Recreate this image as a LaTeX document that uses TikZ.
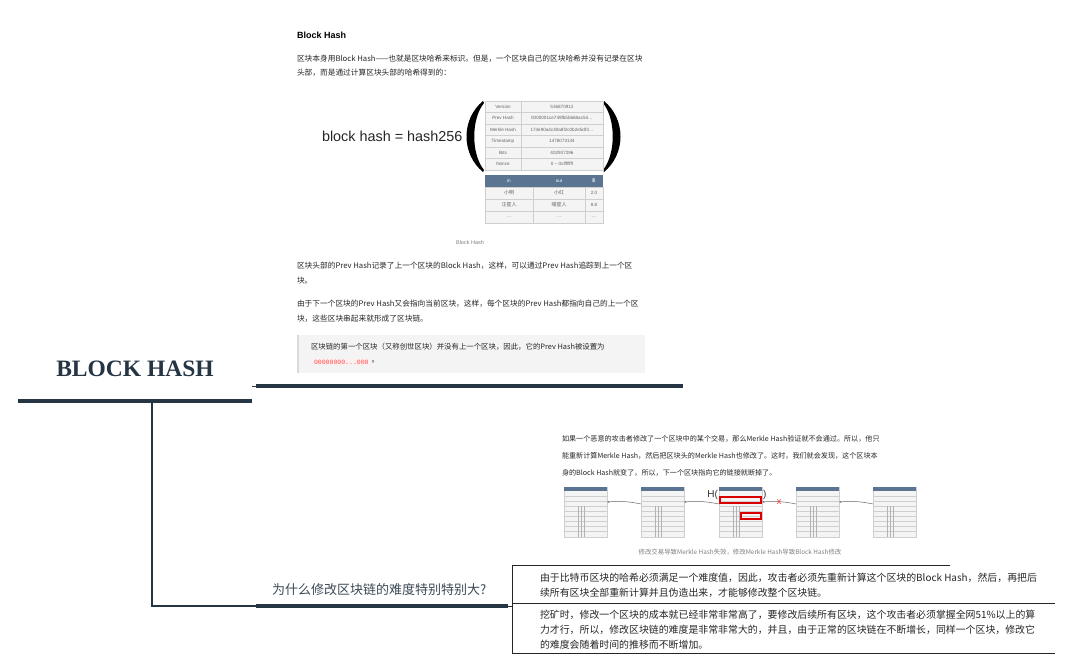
\documentclass[tikz,border=0pt]{standalone}
\usepackage{fontspec}
\setmainfont{Liberation Serif}
\setsansfont{Liberation Sans}
\setmonofont{Liberation Mono}
\newfontfamily\cjk{Noto Sans CJK SC}
\newfontfamily\thaifont[Script=Thai]{Loma}
\usetikzlibrary{positioning,arrows.meta}
\definecolor{navy}{HTML}{263544}
\definecolor{hdr}{HTML}{5B7492}
\definecolor{grid}{HTML}{CFCFCF}
\definecolor{pale}{HTML}{F4F4F4}
\definecolor{ink}{HTML}{262626}

\begin{document}
\begin{tikzpicture}[x=1pt,y=-1pt,
  every node/.style={inner sep=0pt,outer sep=0pt},
  para/.style={anchor=west,font=\cjk\fontsize{7.7}{9}\selectfont,text=ink},
  note/.style={anchor=west,font=\cjk\fontsize{9.9}{12}\selectfont,text=ink},
  cell/.style={font=\sffamily\fontsize{4.6}{5}\selectfont,text=black!60},
  bar/.style={line width=4.5pt,draw=navy},
  twig/.style={line width=1.1pt,draw=navy},
  rim/.style={line width=0.9pt,draw=black!85},
  mini/.style={draw=grid,fill=pale,minimum width=43pt,minimum height=50pt,anchor=north west},
  link/.style={-{Stealth[length=2.5pt,width=2pt]},draw=black!60,line width=0.5pt}]
\fill[white] (0,0) rectangle (1069,669);
\useasboundingbox (0,0) rectangle (1069,669);

\node[anchor=west,font=\sffamily\bfseries\fontsize{9}{10}\selectfont] (bhtitle) at (297,35) {Block Hash};
\node[para] (p1a) at (297,59) {区块本身用Block Hash——也就是区块哈希来标识。但是，一个区块自己的区块哈希并没有记录在区块};
\node[para] (p1b) at (297,73) {头部，而是通过计算区块头部的哈希得到的：};

\node[anchor=west,font=\sffamily\fontsize{14.4}{16}\selectfont,text=black!85] (formula) at (322,136) {block hash = hash256};
\fill (483,101) .. controls (461,119) and (461,154) .. (483,172) -- (484,170) .. controls (471,154) and (471,119) .. (484,103) -- cycle;
\fill (604,101) .. controls (626,119) and (626,154) .. (604,172) -- (603,170) .. controls (616,154) and (616,119) .. (603,103) -- cycle;

\foreach \lab/\val [count=\i] in {Version/536870912,Prev Hash/0000001ce749fb5b668ac54\ldots,Merkle Hash/174e90a4c40a8f2c0b2e5df3\ldots,Timestamp/1478073134,Bits/402937296,Nonce/0 \textasciitilde{} 0xffffffff}{
  \draw[draw=grid,fill=pale] (485,{89.5+11.5*\i}) rectangle (521,{101+11.5*\i});
  \draw[draw=grid,fill=pale] (521,{89.5+11.5*\i}) rectangle (603,{101+11.5*\i});
  \node[cell] (lab\i) at (503,{95.25+11.5*\i}) {\lab};
  \node[cell] (val\i) at (562,{95.25+11.5*\i}) {\val};
}

\fill[hdr] (485,175) rectangle (603,187);
\node[cell,text=white] (hin) at (509,181) {in};
\node[cell,text=white] (hout) at (559,181) {out};
\node[font=\thaifont\fontsize{5}{5}\selectfont,text=white] (hbtc) at (594,181) {฿};
\foreach \a/\b/\c [count=\j] in {小明/小红/2.0,汪星人/喵星人/8.8,\ldots/\ldots/\ldots}{
  \draw[draw=grid,fill=pale] (485,{175+12*\j}) rectangle (533,{187+12*\j});
  \draw[draw=grid,fill=pale] (533,{175+12*\j}) rectangle (585,{187+12*\j});
  \draw[draw=grid,fill=pale] (585,{175+12*\j}) rectangle (603,{187+12*\j});
  \node[cell,font=\cjk\fontsize{5}{5}\selectfont] (in\j) at (509,{181+12*\j}) {\a};
  \node[cell,font=\cjk\fontsize{5}{5}\selectfont] (out\j) at (559,{181+12*\j}) {\b};
  \node[cell] (amt\j) at (594,{181+12*\j}) {\c};
}
\node[font=\sffamily\fontsize{5.5}{6}\selectfont,text=black!50] (cap1) at (470,243) {Block Hash};

\node[para] (p2a) at (297,266) {区块头部的Prev Hash记录了上一个区块的Block Hash，这样，可以通过Prev Hash追踪到上一个区};
\node[para] (p2b) at (297,281) {块。};
\node[para] (p3a) at (297,304) {由于下一个区块的Prev Hash又会指向当前区块，这样，每个区块的Prev Hash都指向自己的上一个区};
\node[para] (p3b) at (297,319) {块，这些区块串起来就形成了区块链。};

\fill[pale] (297,335) rectangle (645,373);
\draw[line width=2pt,draw=black!15] (298,335) -- (298,373);
\node[para,font=\cjk\fontsize{7.4}{9}\selectfont] (q1) at (311,347) {区块链的第一个区块（又称创世区块）并没有上一个区块，因此，它的Prev Hash被设置为};
\node[anchor=west,font=\ttfamily\fontsize{6.5}{7}\selectfont,text=red!70,fill=red!6,inner sep=1pt] (q2) at (313,362) {00000000...000};
\node[para,right=2pt of q2] (q3) {。};

\node[font=\bfseries\fontsize{23.5}{24}\selectfont,text=navy] (root) at (135,369) {BLOCK HASH};
\coordinate (rootL) at (18,401);
\coordinate (rootR) at (252,401);
\coordinate (tick) at (252,386);
\coordinate (shotL) at (256,386);
\coordinate (shotR) at (683,386);
\draw[bar] (rootL) -- (rootR);
\draw[bar] (shotL) -- (shotR);
\draw[line width=0.6pt,draw=navy] (tick) -- (shotL);

\coordinate (fork) at (152,403);
\coordinate (elbow) at (152,606);
\coordinate (qL) at (256,606);
\coordinate (qR) at (508,606);
\draw[twig] (fork) -- (elbow) -- (qL);
\draw[bar] (qL) -- (qR);
\node[anchor=west,font=\cjk\fontsize{13}{14}\selectfont,text=navy!90] (why) at (272,590) {为什么修改区块链的难度特别特别大?};

\coordinate (boxT) at (512,565);
\coordinate (boxM) at (512,603);
\coordinate (boxB) at (512,653);
\draw[rim] (qR) -- (512,606);
\draw[rim] (950,565) -- (boxT) -- (boxB) -- (1055,653);
\draw[rim] (boxM) -- (1055,603);
\node[note] (a1) at (540,578) {由于比特币区块的哈希必须满足一个难度值，因此，攻击者必须先重新计算这个区块的Block Hash，然后，再把后};
\node[note] (a2) at (540,593) {续所有区块全部重新计算并且伪造出来，才能够修改整个区块链。};
\node[note] (b1) at (540,615) {挖矿时，修改一个区块的成本就已经非常非常高了，要修改后续所有区块，这个攻击者必须掌握全网51\%以上的算};
\node[note] (b2) at (540,630) {力才行，所以，修改区块链的难度是非常非常大的，并且，由于正常的区块链在不断增长，同样一个区块，修改它};
\node[note] (b3) at (540,645) {的难度会随着时间的推移而不断增加。};

\node[para,font=\cjk\fontsize{7.1}{9}\selectfont] (s1) at (562,439) {如果一个恶意的攻击者修改了一个区块中的某个交易，那么Merkle Hash验证就不会通过。所以，他只};
\node[para,font=\cjk\fontsize{7.1}{9}\selectfont] (s2) at (562,456) {能重新计算Merkle Hash，然后把区块头的Merkle Hash也修改了。这时，我们就会发现，这个区块本};
\node[para,font=\cjk\fontsize{7.1}{9}\selectfont] (s3) at (562,473) {身的Block Hash就变了，所以，下一个区块指向它的链接就断掉了。};

\foreach \k/\bx in {1/564,2/641,3/719,4/796,5/873}{
  \node[mini] (blk\k) at (\bx,487) {};
  \begin{scope}[shift={(\bx,487)}]
    \fill[hdr] (0,0) rectangle (43,4);
    \foreach \r in {9,14,19,24,29,34,39,44}
      \draw[draw=grid,line width=0.4pt] (0,\r) -- (43,\r);
    \draw[draw=black!30,line width=0.4pt] (14,19) -- (14,50) (17,19) -- (17,50) (20,19) -- (20,50);
  \end{scope}
}
\foreach \k [count=\n from 2] in {1,2,3,4}
  \draw[link] ([yshift=-17pt]blk\n.north west) to[bend right=8] ([yshift=-15pt]blk\k.north east);

\node[anchor=east,font=\sffamily\fontsize{10}{10}\selectfont,text=black!80] (hopen) at ([xshift=-1pt,yshift=-8pt]blk3.north west) {H(};
\node[anchor=west,font=\sffamily\fontsize{10}{10}\selectfont,text=black!80] (hclose) at ([xshift=1pt,yshift=-8pt]blk3.north east) {)};
\draw[red!85!black,line width=1.2pt] (720,497) rectangle (761,503);
\draw[red!85!black,line width=1.2pt] (741,513) rectangle (761,519);
\node[text=red!80,font=\sffamily\fontsize{9}{9}\selectfont] (cut) at (779,502) {x};
\node[font=\cjk\fontsize{6.4}{7}\selectfont,text=black!50] (cap2) at (740,552) {修改交易导致Merkle Hash失效，修改Merkle Hash导致Block Hash修改};
\end{tikzpicture}
\end{document}
